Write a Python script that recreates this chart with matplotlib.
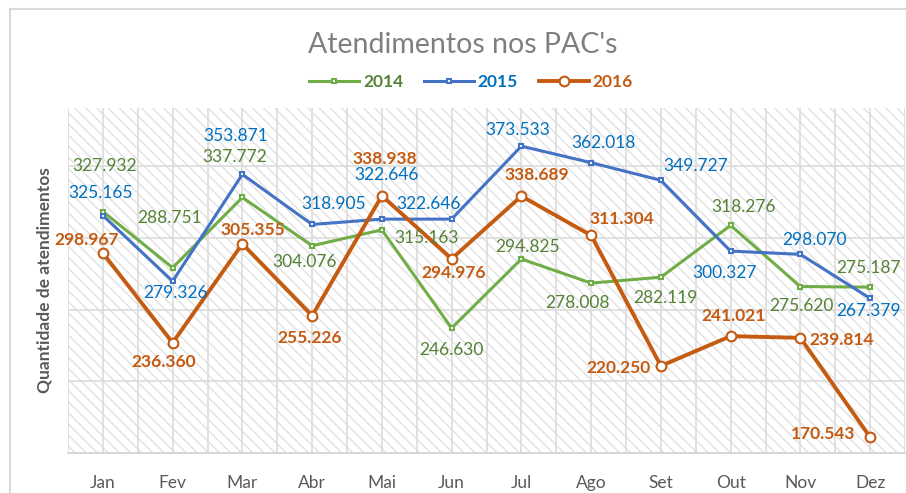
import matplotlib
matplotlib.use("Agg")
import matplotlib.pyplot as plt
from matplotlib.lines import Line2D
from matplotlib.patches import Rectangle
import numpy as np

plt.rcParams['font.family'] = ['Lato', 'DejaVu Sans']
plt.rcParams['hatch.color'] = '#dedede'
plt.rcParams['hatch.linewidth'] = 0.9

# Dados (milhares de atendimentos)
meses = ['Jan', 'Fev', 'Mar', 'Abr', 'Mai', 'Jun', 'Jul', 'Ago', 'Set', 'Out', 'Nov', 'Dez']
v2014 = [327.932, 288.751, 337.772, 304.076, 315.163, 246.630, 294.825, 278.008, 282.119, 318.276, 275.620, 275.187]
v2015 = [325.165, 279.326, 353.871, 318.905, 322.646, 322.646, 373.533, 362.018, 349.727, 300.327, 298.070, 267.379]
v2016 = [298.967, 236.360, 305.355, 255.226, 338.938, 294.976, 338.689, 311.304, 220.250, 241.021, 239.814, 170.543]

# deslocamento dos rotulos em pixels (dx, dy para baixo)
off2014 = [(2, -46), (-3, -50), (-8, -40), (-8, 16), (45, 8), (0, 22), (6, -12), (-14, 20), (5, 21), (13, -18), (1, 19), (-2, -19)]
off2015 = [(-2, -23), (3, 12), (-7, -38), (21, -20), (5, -44), (-23, -15), (-4, -16), (12, -20), (35, -14), (-6, 22), (14, -14), (-2, 13)]
off2016 = [(-16, -13), (-9, 19), (10, -14), (-2, 22), (3, -37), (2, 14), (15, -21), (31, -16), (-42, 2), (3, -20), (41, 2), (-47, -3)]

series = [
    ('2014', v2014, off2014, '#70ad47', '#548235', 's', 3.5, 2.2, 'normal'),
    ('2015', v2015, off2015, '#4472c4', '#0070c0', 's', 3.5, 2.2, 'normal'),
    ('2016', v2016, off2016, '#c55a11', '#c55a11', 'o', 7, 2.8, 'bold'),
]

fig = plt.figure(figsize=(9.06, 4.93), dpi=100)
ax = fig.add_axes([68/906, 1-453/493, 837/906, 345.5/493])

x = np.arange(len(meses))

# fundo hachurado
ax.add_patch(Rectangle((0, 0), 1, 1, transform=ax.transAxes, facecolor='white',
                       edgecolor='#dedede', hatch='\\\\\\', linewidth=0, zorder=0))

# grade
for xv in np.arange(-0.5, 12, 0.5):
    ax.axvline(xv, color='#dcdcdc', linewidth=1.2, zorder=1)
for yv in np.arange(209.5, 400, 50):
    ax.axhline(yv, color='#dcdcdc', linewidth=1.2, zorder=1)

handles = []
for nome, vals, offs, cor, cor_txt, mk, ms, lw, peso in series:
    h, = ax.plot(x, vals, color=cor, linewidth=lw, marker=mk, markersize=ms,
                 markerfacecolor='white', markeredgecolor=cor, markeredgewidth=1.5,
                 zorder=3, label=nome)
    handles.append(h)
    for i, v in enumerate(vals):
        dx, dy = offs[i]
        ax.annotate(f'{v:.3f}', (x[i], v), xytext=(dx, -dy), textcoords='offset pixels',
                    ha='center', va='center', color=cor_txt, fontsize=12.5,
                    fontweight=peso, zorder=4)

ax.set_xlim(-0.5, 11.5)
ax.set_ylim(159.5, 400.5)
ax.set_xticks(x)
ax.set_xticklabels(meses, fontsize=12.5, color='#595959')
ax.tick_params(axis='x', length=0, pad=16)
ax.set_yticks([])
for s in ['top', 'right', 'left']:
    ax.spines[s].set_visible(False)
ax.spines['bottom'].set_color('#d0d0d0')
ax.spines['bottom'].set_linewidth(1.2)

fig.text(463/906, 1-45/493, "Atendimentos nos PAC's", ha='center', va='center',
         fontsize=20.5, color='#7f7f7f', fontweight='normal')
fig.text(45/906, 1-280/493, 'Quantidade de atendimentos', rotation=90,
         ha='center', va='center', fontsize=12.5, fontweight='bold', color='#595959')

leg = fig.legend(handles=handles, loc='center', bbox_to_anchor=(471/906, 1-82/493),
                 ncol=3, frameon=False, fontsize=12.5, handlelength=2.9,
                 handletextpad=0.2, columnspacing=1.2)
for t, c in zip(leg.get_texts(), ['#548235', '#0070c0', '#c55a11']):
    t.set_color(c)
    t.set_fontweight('bold')

# moldura externa
fig.add_artist(Line2D([10/906, 10/906], [0, 1-8.5/493], color='#d9d9d9', linewidth=1.5))
fig.add_artist(Line2D([10/906, 1], [1-8.5/493, 1-8.5/493], color='#d9d9d9', linewidth=1.5))

plt.savefig('out.png', dpi=100)
